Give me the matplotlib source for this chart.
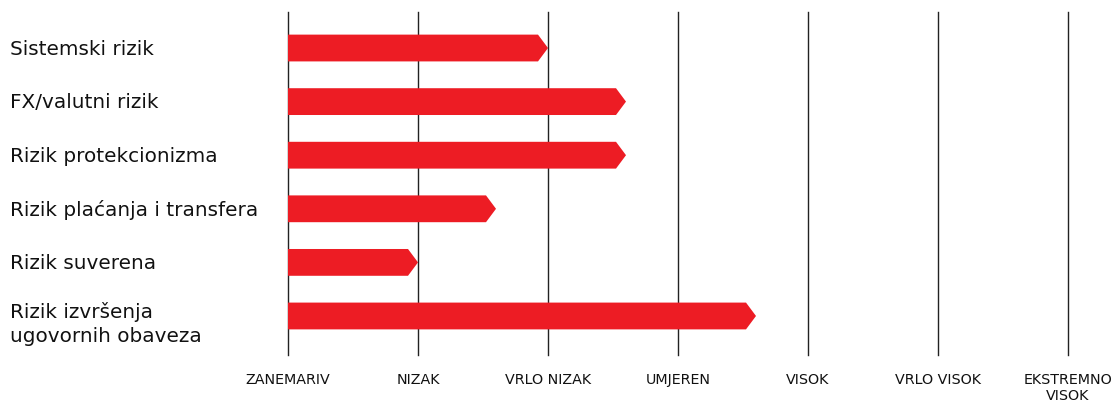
import matplotlib
matplotlib.use("Agg")
import matplotlib.pyplot as plt
from matplotlib.patches import Polygon
import matplotlib.transforms as mtransforms

categories = ["Sistemski rizik", "FX/valutni rizik", "Rizik protekcionizma",
              "Rizik plaćanja i transfera", "Rizik suverena",
              "Rizik izvršenja\nugovornih obaveza"]
values = [2.0, 2.6, 2.6, 1.6, 1.0, 3.6]
levels = ["ZANEMARIV", "NIZAK", "VRLO NIZAK", "UMJEREN", "VISOK",
          "VRLO VISOK", "EKSTREMNO\nVISOK"]

W, H = 1115, 403
fig = plt.figure(figsize=(W / 100, H / 100), dpi=100)
x0, x1 = 288, 1068
y0, y1 = 12, 355
ax = fig.add_axes([x0 / W, 1 - y1 / H, (x1 - x0) / W, (y1 - y0) / H])
ax.set_xlim(0, 6)
ax.set_ylim(5.728, -0.672)
ax.axis("off")

font = "DejaVu Sans"
red = "#ED1C24"

for i in range(len(levels)):
    ax.axvline(i, color="#222222", lw=1.0, zorder=1, clip_on=False)

tip = 10 / 130
hh = 0.25
for i, v in enumerate(values):
    pts = [(0, i - hh), (v - tip, i - hh), (v, i), (v - tip, i + hh), (0, i + hh)]
    ax.add_patch(Polygon(pts, closed=True, facecolor=red, edgecolor="none", zorder=2))

trans_lbl = mtransforms.blended_transform_factory(fig.transFigure, ax.transData)
for i, c in enumerate(categories):
    yy = i + (0.15 if "\n" in c else 0.02)
    ax.text(10 / W, yy, c, transform=trans_lbl, ha="left", va="center",
            fontsize=14.4, family=font, color="#111111", linespacing=1.35)

trans_tick = mtransforms.blended_transform_factory(ax.transData, fig.transFigure)
for i, lv in enumerate(levels):
    ax.text(i, 1 - 373 / H, lv, transform=trans_tick, ha="center", va="top",
            fontsize=10.3, family=font, color="#111111", linespacing=1.2)

fig.savefig("out.png", dpi=100)
